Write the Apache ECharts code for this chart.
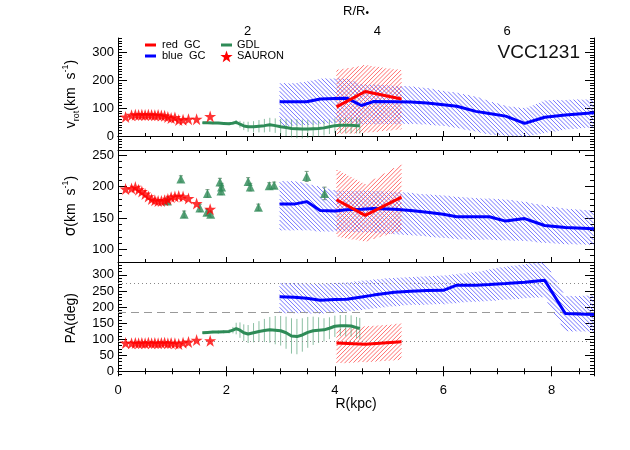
<!DOCTYPE html>
<html>
<head>
<meta charset="utf-8">
<script src="https://cdn.jsdelivr.net/npm/echarts@6/dist/echarts.min.js"></script>
<style>
  html, body { margin: 0; background: #fff; }
  #main { width: 630px; height: 450px; }
</style>
</head>
<body>
<div id="main"></div>
<script>
// SAURON stellar kinematics (kpc)
const sauR     = [0.14, 0.25, 0.32, 0.38, 0.44, 0.5, 0.56, 0.62, 0.68, 0.74, 0.8, 0.86, 0.92, 0.98, 1.05, 1.12, 1.2, 1.3, 1.45, 1.7]
const sauVrot  = [68, 74, 76, 75, 76, 75, 76, 75, 74, 75, 73, 72, 68, 64, 66, 57, 58, 60, 60, 70]
const sauSigma = [196, 197, 199, 195, 192, 188, 184, 180, 178, 177, 177, 178, 180, 183, 184, 185, 184, 181, 173, 164]
const sauPA    = [88, 87, 88, 87, 88, 87, 89, 87, 88, 87, 88, 89, 87, 88, 87, 85, 89, 91, 97, 95]

// GDL long-slit
const gdlR     = [1.56, 1.65, 1.75, 1.85, 1.95, 2.05, 2.12, 2.18, 2.25, 2.32, 2.4, 2.5, 2.6, 2.7, 2.8, 2.9, 3.0, 3.1, 3.2, 3.3, 3.4, 3.5, 3.6, 3.7, 3.8, 3.9, 4.0, 4.1, 4.2, 4.3, 4.4, 4.46]
const gdlVrot  = [47, 47, 46, 46, 45, 44, 46, 49, 42, 36, 33, 33, 35, 37, 40, 37, 33, 30, 27, 26, 25, 25, 26, 27, 29, 33, 37, 38, 38, 38, 37, 37]
const gdlVErr  = [4, 4, 4, 4, 5, 5, 6, 8, 12, 15, 18, 20, 22, 24, 25, 26, 28, 30, 32, 34, 34, 32, 30, 28, 27, 26, 26, 27, 28, 28, 28, 28]
const gdlPA    = [120, 121, 122, 122, 123, 124, 128, 133, 128, 120, 116, 120, 124, 127, 129, 128, 126, 120, 110, 108, 113, 121, 126, 128, 129, 134, 140, 142, 142, 141, 136, 133]
const gdlPAErr = [4, 4, 4, 5, 5, 6, 10, 18, 24, 26, 28, 30, 32, 36, 40, 44, 46, 50, 55, 55, 52, 48, 44, 40, 36, 34, 33, 33, 33, 33, 33, 33]

// GDL sigma points
const triR     = [0.91, 1.16, 1.22, 1.51, 1.64, 1.65, 1.71, 1.88, 1.9, 1.91, 2.4, 2.44, 2.59, 2.79, 2.88, 3.48, 3.81]
const triSigma = [177, 212, 156, 166, 159, 189, 156, 207, 193, 199, 208, 199, 167, 201, 202, 216, 189]
const triErr   = [5, 5, 5, 6, 5, 6, 5, 6, 6, 6, 6, 6, 5, 5, 5, 8, 10]

// blue GCs
const blueR       = [2.98, 3.25, 3.48, 3.73, 4.0, 4.22, 4.49, 4.71, 5.1, 5.4, 5.7, 6.0, 6.25, 6.6, 6.85, 7.15, 7.5, 7.87, 8.25, 8.78]
const blueVrot    = [122, 122, 122, 132, 134, 135, 109, 123, 122, 121, 118, 112, 106, 88, 80, 71, 45, 67, 75, 83]
const blueVrotHi  = [189, 189, 195, 205, 207, 205, 185, 185, 180, 178, 172, 162, 155, 142, 125, 108, 100, 128, 130, 132]
const blueVrotLo  = [35, 35, 38, 42, 45, 48, 40, 42, 42, 42, 40, 35, 28, 15, 5, 0, -5, 10, 22, 30]
const blueSigma   = [172, 172, 176, 162, 161, 163, 164, 165, 164, 162, 159, 156, 152, 152, 152, 145, 149, 138, 135, 133]
const blueSigmaHi = [209, 209, 205, 200, 194, 193, 194, 193, 192, 190, 188, 186, 184, 182, 181, 180, 176, 170, 165, 162]
const blueSigmaLo = [130, 130, 130, 128, 128, 128, 127, 126, 124, 122, 120, 118, 116, 115, 115, 114, 113, 110, 108, 107]
const bluePA      = [232, 230, 227, 221, 223, 224, 231, 237, 246, 249, 251, 252, 268, 268, 270, 273, 277, 283, 180, 177]
const bluePAHi    = [275, 275, 275, 274, 275, 277, 282, 286, 292, 294, 296, 298, 303, 310, 318, 326, 334, 342, 234, 237]
const bluePALo    = [180, 180, 180, 178, 183, 185, 190, 195, 202, 205, 207, 208, 212, 215, 218, 222, 226, 229, 124, 123]

// red GCs
const redR       = [4.03, 4.56, 5.23]
const redVrot    = [104, 159, 132]
const redVrotHi  = [236, 254, 236]
const redVrotLo  = [6, 10, 23]
const redSigma   = [179, 154, 183]
const redSigmaHi = [228, 204, 236]
const redSigmaLo = [120, 112, 130]
const redPA      = [88, 84, 92]
const redPAHi    = [132, 140, 149]
const redPALo    = [24, 28, 34]

// reference position angles (minor, major, minor)
const paLines = [275, 185, 95]

const xTicks    = [0, 2, 4, 6, 8]
const reTicks   = [2, 4, 6]
const vrotTicks = [0, 100, 200, 300]
const sigTicks  = [100, 150, 200, 250]
const paTicks   = [0, 50, 100, 150, 200, 250, 300]

const RED = '#ff0000', BLUE = '#0000ff', GREEN = '#2e8b57'
const FONT = 'Liberation Sans'
const star = 'path://M50,0 L61.2,34.5 L97.6,34.5 L68.2,55.9 L79.4,90.5 L50,69.1 L20.6,90.5 L31.8,55.9 L2.4,34.5 L38.8,34.5 Z'

const XI = [0, 2, 4]
const YI = [0, 4, 8]

// hatched band: diagonal strokes between hi and lo, built as one path
// dir = 1 -> "\" strokes, dir = -1 -> "/" strokes
function band(g, xs, hi, lo, color, dir) {
  const gap = 4.2
  return {
    type: 'custom', xAxisIndex: XI[g], yAxisIndex: YI[g], clip: false, silent: true,
    data: [[xs[0], lo[0]]],
    renderItem(params, api) {
      const up = xs.map((x, i) => api.coord([x, hi[i]]))
      const dn = xs.map((x, i) => api.coord([x, lo[i]]))
      const cs = params.coordSys
      const top = cs.y, bot = cs.y + cs.height
      const x0 = up[0][0], x1 = Math.min(up[up.length - 1][0], cs.x + cs.width)
      const step = 0.5
      const n = Math.floor((x1 - x0) / step) + 1
      const yU = [], yD = []
      let j = 0
      for (let k = 0; k < n; k++) {
        const px = x0 + k * step
        while (j < up.length - 2 && px > up[j + 1][0]) j++
        const t = (px - up[j][0]) / (up[j + 1][0] - up[j][0])
        yU.push(Math.max(top, up[j][1] + t * (up[j + 1][1] - up[j][1])))
        yD.push(Math.min(bot, dn[j][1] + t * (dn[j + 1][1] - dn[j][1])))
      }
      const h = bot - top
      let d = ''
      const uMin = dir > 0 ? x0 - h : x0
      const uMax = dir > 0 ? x1 : x1 + h
      for (let u = uMin; u <= uMax; u += gap) {
        let start = null, last = null
        for (let k = 0; k <= n; k++) {
          let inside = false, px, py
          if (k < n) { px = x0 + k * step; py = top + dir * (px - u); inside = py >= yU[k] && py <= yD[k] }
          if (inside) { if (!start) start = [px, py]; last = [px, py] }
          else if (start) {
            d += 'M' + start[0].toFixed(2) + ' ' + start[1].toFixed(2) + 'L' + last[0].toFixed(2) + ' ' + last[1].toFixed(2)
            start = null
          }
        }
      }
      return { type: 'path', shape: { pathData: d }, style: { fill: 'none', stroke: color, lineWidth: 1 } }
    }
  }
}

function errBars(g, xs, ys, es, color, cap) {
  return {
    type: 'custom', xAxisIndex: XI[g], yAxisIndex: YI[g], clip: true, silent: true,
    data: xs.map((x, i) => [x, ys[i] - es[i], ys[i] + es[i]]),
    encode: { x: 0, y: [1, 2] },
    renderItem(params, api) {
      const a = api.coord([api.value(0), api.value(1)])
      const b = api.coord([api.value(0), api.value(2)])
      let d = 'M' + a[0] + ' ' + a[1] + 'L' + b[0] + ' ' + b[1]
      if (cap) d += 'M' + (a[0] - 2) + ' ' + a[1] + 'L' + (a[0] + 2) + ' ' + a[1] + 'M' + (b[0] - 2) + ' ' + b[1] + 'L' + (b[0] + 2) + ' ' + b[1]
      return { type: 'path', shape: { pathData: d }, style: { fill: 'none', stroke: color, lineWidth: 1 } }
    }
  }
}

function line(g, name, xs, ys, color) {
  return {
    name, type: 'line', xAxisIndex: XI[g], yAxisIndex: YI[g], showSymbol: false, symbol: 'none',
    lineStyle: { color, width: 3 }, itemStyle: { color }, z: 5,
    data: xs.map((x, i) => [x, ys[i]])
  }
}

function stars(g, ys) {
  return {
    name: 'SAURON', type: 'scatter', xAxisIndex: XI[g], yAxisIndex: YI[g], symbol: star, symbolSize: 12,
    itemStyle: { color: RED }, z: 6,
    data: sauR.map((x, i) => [x, ys[i]])
  }
}

const grids = [
  { left: 118, width: 476, top: 38, height: 112 },
  { left: 118, width: 476, top: 150, height: 112 },
  { left: 118, width: 476, top: 262, height: 112.5 }
]
const yRange = [[-50, 350], [80, 258], [-10, 340]]
const yMajor = [vrotTicks, sigTicks, paTicks]
const yNames = ['v{sub|rot}(km  s{sup|-1})', '{sig|σ}(km  s{sup|-1})', 'PA(deg)']

const axisLine = { show: true, lineStyle: { color: '#000', width: 1 } }
const labelStyle = { color: '#000', fontFamily: FONT, fontSize: 13 }

const xAxis = []
for (let g = 0; g < 3; g++) {
  xAxis.push({
    type: 'value', gridIndex: g, position: 'bottom', min: 0, max: 8.78, interval: 2,
    axisLine, splitLine: { show: false },
    axisTick: { inside: true, length: 5, lineStyle: { color: '#000' } },
    minorTick: { show: true, splitNumber: 4, length: 3, lineStyle: { color: '#000' } },
    axisLabel: g === 2 ? Object.assign({ margin: 9, customValues: xTicks }, labelStyle) : { show: false },
    name: g === 2 ? 'R(kpc)' : '', nameLocation: 'middle', nameGap: 22,
    nameTextStyle: { color: '#000', fontFamily: FONT, fontSize: 14 }
  })
  if (g === 0) {
    xAxis.push({
      type: 'value', gridIndex: 0, position: 'top', min: 0, max: 7.34, interval: 1,
      axisLine, splitLine: { show: false },
      axisTick: { inside: true, length: 5, lineStyle: { color: '#000' } },
      minorTick: { show: true, splitNumber: 2, length: 3, lineStyle: { color: '#000' } },
      axisLabel: Object.assign({ margin: 0, customValues: reTicks }, labelStyle),
      name: 'R/R{dot|•}', nameLocation: 'middle', nameGap: 20,
      nameTextStyle: { color: '#000', fontFamily: FONT, fontSize: 13, rich: { dot: { fontSize: 10, verticalAlign: 'bottom', lineHeight: 10, padding: [6, 0, 0, 0] } } }
    })
  } else {
    xAxis.push({
      type: 'value', gridIndex: g, position: 'top', min: 0, max: 8.78, interval: 2,
      axisLine, splitLine: { show: false },
      axisTick: { inside: true, length: 5, lineStyle: { color: '#000' } },
      minorTick: { show: true, splitNumber: 4, length: 3, lineStyle: { color: '#000' } },
      axisLabel: { show: false }
    })
  }
}

const yAxis = []
for (let g = 0; g < 3; g++) {
  const [mn, mx] = yRange[g]
  yAxis.push({
    type: 'value', gridIndex: g, position: 'left', min: mn, max: mx,
    axisLine, splitLine: { show: false },
    axisTick: { inside: true, length: 9, customValues: yMajor[g], lineStyle: { color: '#000' } },
    axisLabel: Object.assign({ margin: 4, customValues: yMajor[g] }, labelStyle),
    name: yNames[g], nameLocation: 'middle', nameRotate: 90, nameGap: 34,
    nameTextStyle: {
      color: '#000', fontFamily: FONT, fontSize: 14, lineHeight: 20,
      rich: {
        sub: { fontFamily: FONT, fontSize: 9, lineHeight: 20, verticalAlign: 'bottom', padding: [6, 0, 0, 0] },
        sup: { fontFamily: FONT, fontSize: 9, lineHeight: 20, verticalAlign: 'top', padding: [0, 0, 6, 0] },
        sig: { fontFamily: 'DejaVu Sans', fontSize: 15 }
      }
    }
  })
  yAxis.push({
    type: 'value', gridIndex: g, position: 'left', min: mn, max: mx, interval: 10,
    axisLine: { show: false }, splitLine: { show: false }, axisLabel: { show: false },
    axisTick: { inside: true, length: 4, lineStyle: { color: '#000' } }
  })
  yAxis.push({
    type: 'value', gridIndex: g, position: 'right', min: mn, max: mx,
    axisLine, splitLine: { show: false }, axisLabel: { show: false },
    axisTick: { inside: true, length: 9, customValues: yMajor[g], lineStyle: { color: '#000' } }
  })
  yAxis.push({
    type: 'value', gridIndex: g, position: 'right', min: mn, max: mx, interval: 10,
    axisLine: { show: false }, splitLine: { show: false }, axisLabel: { show: false },
    axisTick: { inside: true, length: 4, lineStyle: { color: '#000' } }
  })
}

const gdlErrColor = 'rgba(46,139,87,0.55)'
const blueHatch = 'rgba(70,70,255,0.75)'
const redHatch = 'rgba(255,60,60,0.75)'

const series = [
  // top: rotation velocity
  band(0, blueR, blueVrotHi, blueVrotLo, blueHatch, 1),
  band(0, redR, redVrotHi, redVrotLo, redHatch, -1),
  errBars(0, gdlR, gdlVrot, gdlVErr, gdlErrColor, false),
  line(0, 'GDL', gdlR, gdlVrot, GREEN),
  line(0, 'blue GC', blueR, blueVrot, BLUE),
  line(0, 'red GC', redR, redVrot, RED),
  stars(0, sauVrot),
  // middle: dispersion
  band(1, blueR, blueSigmaHi, blueSigmaLo, blueHatch, 1),
  band(1, redR, redSigmaHi, redSigmaLo, redHatch, -1),
  errBars(1, triR, triSigma, triErr, 'rgba(90,130,100,0.8)', true),
  {
    name: 'GDL', type: 'scatter', xAxisIndex: 2, yAxisIndex: 4, symbol: 'triangle', symbolSize: 9,
    itemStyle: { color: GREEN }, z: 6, data: triR.map((x, i) => [x, triSigma[i]])
  },
  line(1, 'blue GC', blueR, blueSigma, BLUE),
  line(1, 'red GC', redR, redSigma, RED),
  stars(1, sauSigma),
  // bottom: position angle
  {
    type: 'line', xAxisIndex: 4, yAxisIndex: 8, data: [], silent: true,
    markLine: {
      symbol: 'none', silent: true, label: { show: false },
      data: paLines.map((v, i) => ({
        yAxis: v,
        lineStyle: i === 1 ? { color: '#999', type: [8, 5], width: 1 } : { color: '#888', type: [1, 3], width: 1 }
      }))
    }
  },
  band(2, blueR, bluePAHi, bluePALo, blueHatch, 1),
  band(2, redR, redPAHi, redPALo, redHatch, -1),
  errBars(2, gdlR, gdlPA, gdlPAErr, gdlErrColor, false),
  line(2, 'GDL', gdlR, gdlPA, GREEN),
  line(2, 'blue GC', blueR, bluePA, BLUE),
  line(2, 'red GC', redR, redPA, RED),
  stars(2, sauPA)
]

function starPts(cx, cy, r) {
  const pts = []
  for (let k = 0; k < 10; k++) {
    const a = -Math.PI / 2 + k * Math.PI / 5
    const rr = k % 2 ? r * 0.4 : r
    pts.push([cx + rr * Math.cos(a), cy + rr * Math.sin(a)])
  }
  return pts
}

const legTxt = { fontFamily: FONT, fontSize: 11, fill: '#000', verticalAlign: 'middle' }
const graphic = [
  { type: 'rect', shape: { x: 145, y: 43.5, width: 11, height: 3 }, style: { fill: RED } },
  { type: 'text', x: 162, y: 45, style: Object.assign({ text: 'red  GC' }, legTxt) },
  { type: 'rect', shape: { x: 145, y: 54.5, width: 11, height: 3 }, style: { fill: BLUE } },
  { type: 'text', x: 162, y: 56, style: Object.assign({ text: 'blue  GC' }, legTxt) },
  { type: 'rect', shape: { x: 221, y: 43.5, width: 11, height: 3 }, style: { fill: GREEN } },
  { type: 'text', x: 237, y: 45, style: Object.assign({ text: 'GDL' }, legTxt) },
  { type: 'polygon', shape: { points: starPts(226.5, 57, 6.5) }, style: { fill: RED } },
  { type: 'text', x: 237, y: 56, style: Object.assign({ text: 'SAURON' }, legTxt) },
  { type: 'text', right: 50, top: 43, style: { text: 'VCC1231', fontFamily: FONT, fontSize: 19, fill: '#111' } }
]

const chart = echarts.init(document.getElementById('main'), null, { renderer: 'canvas' })
chart.setOption({
  animation: false,
  backgroundColor: '#fff',
  grid: grids,
  xAxis, yAxis, series, graphic
})
</script>
</body>
</html>
